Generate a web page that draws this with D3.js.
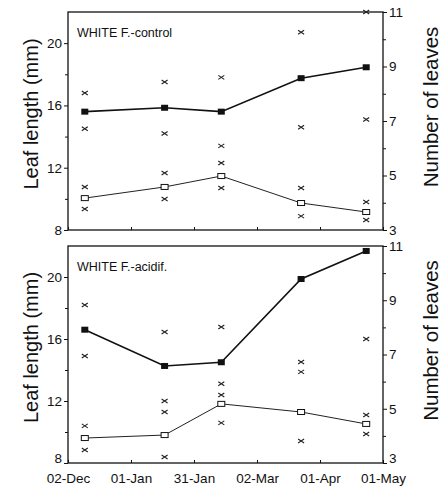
<!DOCTYPE html>
<html>
<head>
<meta charset="utf-8">
<script src="https://cdn.jsdelivr.net/npm/d3@7"></script>
<style>
  body { margin: 0; background: #fff; }
  text { font-family: Arial, "Liberation Sans", Helvetica, sans-serif; fill: #111; }
</style>
</head>
<body>
<svg width="446" height="488"></svg>
<script>
// sampling dates and axis ticks
var sampleDates = ['1990-12-10', '1991-01-17', '1991-02-13', '1991-03-23', '1991-04-23'];
var xTicks = ['1990-12-02', '1991-01-01', '1991-01-31', '1991-03-02', '1991-04-01', '1991-05-01'];
var lengthTicks = [8, 12, 16, 20];
var leavesTicks = [3, 5, 7, 9, 11];

// WHITE F.-control
var ctrlLength = [15.6, 15.85, 15.6, 17.75, 18.45];
var ctrlLengthHi = [16.8, 17.5, 17.8, 20.7, 22.0];
var ctrlLengthLo = [14.5, 14.2, 13.4, 14.6, 15.1];
var ctrlLeaves = [4.17, 4.58, 4.98, 3.99, 3.66];
var ctrlLeavesHi = [4.58, 5.09, 5.46, 4.54, 4.03];
var ctrlLeavesLo = [3.77, 4.14, 4.54, 3.51, 3.37];

// WHITE F.-acidif.
var acidLength = [16.6, 14.26, 14.5, 19.87, 21.68];
var acidLengthHi = [18.19, 16.45, 16.77, null, null];
var acidLengthLo = [14.9, 12.0, 12.39, 14.52, 16.0];
var acidLeaves = [3.92, 4.03, 5.18, 4.88, 4.44];
var acidLeavesHi = [4.37, 4.88, 5.92, 6.36, 4.77];
var acidLeavesLo = [3.48, 3.22, 4.48, 3.81, 4.07];

var svg = d3.select('svg');
var parse = d3.timeParse('%Y-%m-%d');
var dates = sampleDates.map(parse);

var left = 68, right = 383;
var x = d3.scaleTime()
  .domain([parse(xTicks[0]), parse(xTicks[xTicks.length - 1])])
  .range([left, right]);

var panels = [
  { title: 'WHITE F.-control', top: 12, bottom: 230, showDates: false,
    len: ctrlLength, lenHi: ctrlLengthHi, lenLo: ctrlLengthLo,
    lv: ctrlLeaves, lvHi: ctrlLeavesHi, lvLo: ctrlLeavesLo },
  { title: 'WHITE F.-acidif.', top: 246, bottom: 463, showDates: true,
    len: acidLength, lenHi: acidLengthHi, lenLo: acidLengthLo,
    lv: acidLeaves, lvHi: acidLeavesHi, lvLo: acidLeavesLo }
];

var cross = 'M-3,-2L3,2M-3,2L3,-2';

panels.forEach(function(p) {
  var yL = d3.scaleLinear().domain([8, 22]).range([p.bottom, p.top]);
  var yR = d3.scaleLinear().domain([3, 11]).range([p.bottom, p.top]);
  var g = svg.append('g');

  // frame
  g.append('rect')
    .attr('x', left).attr('y', p.top)
    .attr('width', right - left).attr('height', p.bottom - p.top)
    .attr('fill', 'none').attr('stroke', '#111').attr('stroke-width', 1.3);

  // left axis
  var axL = g.append('g').attr('transform', 'translate(' + left + ',0)')
    .call(d3.axisLeft(yL).tickValues(lengthTicks).tickSize(4).tickPadding(2));
  g.append('g').attr('transform', 'translate(' + left + ',0)')
    .call(d3.axisLeft(yL).tickValues([10, 14, 18]).tickSize(3).tickFormat(''));

  // right axis
  var axR = g.append('g').attr('transform', 'translate(' + right + ',0)')
    .call(d3.axisRight(yR).tickValues(leavesTicks).tickSize(4).tickPadding(2));
  g.append('g').attr('transform', 'translate(' + right + ',0)')
    .call(d3.axisRight(yR).tickValues([4, 6, 8, 10]).tickSize(3).tickFormat(''));

  // bottom axis, ticks inward
  var axB = g.append('g').attr('transform', 'translate(0,' + p.bottom + ')')
    .call(d3.axisBottom(x).tickValues(xTicks.map(parse)).tickSize(-3)
      .tickPadding(10).tickFormat(p.showDates ? d3.timeFormat('%d-%b') : ''));

  g.selectAll('.domain').remove();
  g.selectAll('.tick line').attr('stroke', '#111');
  g.selectAll('.tick text').style('font-size', '13.5px');

  // lowest labels of the lower panel sit a little higher, clear of the dates
  if (p.showDates) {
    axL.selectAll('.tick').filter(function(d) { return d === 8; })
      .select('text').attr('dy', '-0.05em');
    axR.selectAll('.tick').filter(function(d) { return d === 3; })
      .select('text').attr('dy', '-0.05em');
  }

  g.append('text')
    .attr('x', 77).attr('y', p.top + 25)
    .style('font-size', '12.5px')
    .text(p.title);

  // axis titles
  var mid = (p.top + p.bottom) / 2;
  g.append('text')
    .attr('transform', 'translate(38,' + (mid - 7) + ') rotate(-90)')
    .attr('text-anchor', 'middle')
    .style('font-size', '20px')
    .text('Leaf length (mm)');
  g.append('text')
    .attr('transform', 'translate(438,' + (mid - 14) + ') rotate(-90)')
    .attr('text-anchor', 'middle')
    .style('font-size', '20.5px')
    .text('Number of leaves');

  // error crosses
  var crosses = [];
  dates.forEach(function(d, i) {
    [p.lenHi[i], p.lenLo[i]].forEach(function(v) {
      if (v != null) crosses.push({ d: d, y: yL(v) });
    });
    [p.lvHi[i], p.lvLo[i]].forEach(function(v) {
      if (v != null) crosses.push({ d: d, y: yR(v) });
    });
  });
  g.selectAll('path.cross')
    .data(crosses)
    .enter()
    .append('path')
    .attr('class', 'cross')
    .attr('d', cross)
    .attr('transform', function(c) {
      return 'translate(' + x(c.d) + ',' + c.y + ')';
    })
    .attr('stroke', '#222').attr('stroke-width', 1.1).attr('fill', 'none');

  // leaf length line, filled squares
  var lenLine = d3.line()
    .x(function(v, i) { return x(dates[i]); })
    .y(function(v) { return yL(v); });
  g.append('path').datum(p.len)
    .attr('d', lenLine)
    .attr('fill', 'none').attr('stroke', '#111').attr('stroke-width', 1.6);
  g.selectAll('rect.len')
    .data(p.len)
    .enter()
    .append('rect')
    .attr('class', 'len')
    .attr('x', function(v, i) { return x(dates[i]) - 3.5; })
    .attr('y', function(v) { return yL(v) - 3; })
    .attr('width', 7).attr('height', 6)
    .attr('fill', '#111');

  // number of leaves line, open squares
  var lvLine = d3.line()
    .x(function(v, i) { return x(dates[i]); })
    .y(function(v) { return yR(v); });
  g.append('path').datum(p.lv)
    .attr('d', lvLine)
    .attr('fill', 'none').attr('stroke', '#222').attr('stroke-width', 1);
  g.selectAll('rect.lv')
    .data(p.lv)
    .enter()
    .append('rect')
    .attr('class', 'lv')
    .attr('x', function(v, i) { return x(dates[i]) - 3.5; })
    .attr('y', function(v) { return yR(v) - 2.5; })
    .attr('width', 7).attr('height', 5)
    .attr('fill', '#fff').attr('stroke', '#111').attr('stroke-width', 1);
});
</script>
</body>
</html>
